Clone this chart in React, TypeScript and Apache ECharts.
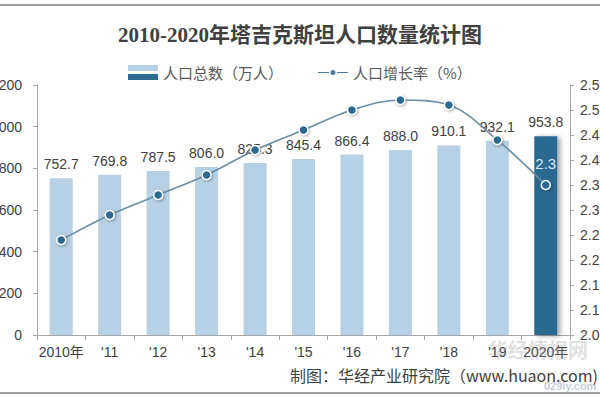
import React, { useEffect, useRef } from "react";
import * as echarts from "echarts";

const categories = ["2010年", "'11", "'12", "'13", "'14", "'15", "'16", "'17", "'18", "'19", "2020年"];
const population = [752.7, 769.8, 787.5, 806.0, 825.3, 845.4, 866.4, 888.0, 910.1, 932.1, 953.8];
const growthRate = [2.19, 2.24, 2.28, 2.32, 2.37, 2.41, 2.45, 2.47, 2.46, 2.39, 2.30];

const LIGHT = "#b6d0e5";
const DARK = "#2c6a91";
const LINE = "#6b8ea6";
const AXIS = "#a6a6a6";
const TEXT = "#404040";
const CJK = "'Noto Sans CJK SC', 'Liberation Sans', sans-serif";
const LATIN = "'Liberation Sans', Arial, 'Noto Sans CJK SC', sans-serif";

const LINE_ICON =
  "path://M0,7 L11,7 L11,8 L0,8 Z M19,7 L30,7 L30,8 L19,8 Z M15,5 A2.5,2.5 0 1 1 15,10 A2.5,2.5 0 1 1 15,5 Z M0,0 L0.01,0 L0.01,0.01 Z M30,15 L29.99,15 L29.99,14.99 Z";

export default function App() {
  const ref = useRef<HTMLDivElement>(null);
  useEffect(() => {
    if (!ref.current) return;
    const chart = echarts.init(ref.current, null, { renderer: "svg" });
    const last = population.length - 1;
    const option: any = {
      animation: false,
      backgroundColor: "#ffffff",
      title: {
        text: "2010-2020年塔吉克斯坦人口数量统计图",
        left: "center",
        top: 19,
        textStyle: {
          fontSize: 21,
          fontWeight: "bold",
          color: TEXT,
          fontFamily: "'Liberation Serif', 'Noto Sans CJK SC', serif",
        },
      },
      legend: {
        left: 123,
        top: 60,
        itemWidth: 30,
        itemHeight: 15,
        itemGap: 35,
        textStyle: { fontSize: 15, color: "#595959", fontFamily: CJK },
        data: [
          {
            name: "人口总数（万人）",
            icon: "rect",
            itemStyle: {
              color: new echarts.graphic.LinearGradient(0, 0, 0, 1, [
                { offset: 0, color: LIGHT },
                { offset: 0.42, color: LIGHT },
                { offset: 0.42, color: "#ffffff" },
                { offset: 0.58, color: "#ffffff" },
                { offset: 0.58, color: DARK },
                { offset: 1, color: DARK },
              ]),
            },
          },
          {
            name: "人口增长率（%）",
            icon: LINE_ICON,
            itemStyle: { color: "#4d7a98", borderWidth: 0, shadowBlur: 0 },
          },
        ],
      },
      grid: {
        left: 37,
        right: 30,
        top: 85,
        bottom: 66,
        containLabel: false,
        outerBoundsMode: "none",
      },
      xAxis: {
        type: "category",
        data: categories,
        axisLine: { lineStyle: { color: AXIS, width: 1 } },
        axisTick: { show: true, length: 5, lineStyle: { color: AXIS } },
        axisLabel: { interval: 0, fontSize: 14, color: TEXT, margin: 10, fontFamily: LATIN },
      },
      yAxis: [
        {
          type: "value",
          min: 0,
          max: 1200,
          interval: 200,
          splitLine: { show: false },
          axisLine: { show: true, lineStyle: { color: AXIS } },
          axisTick: { show: true, length: 4, lineStyle: { color: AXIS } },
          axisLabel: {
            fontSize: 14,
            color: TEXT,
            margin: 15,
            fontFamily: LATIN,
            formatter: (v: number) => String(Math.round(v)),
          },
        },
        {
          type: "value",
          min: 2.0,
          max: 2.5,
          interval: 0.05,
          position: "right",
          splitLine: { show: false },
          axisLine: { show: true, lineStyle: { color: AXIS } },
          axisTick: { show: true, length: 4, lineStyle: { color: AXIS } },
          axisLabel: {
            fontSize: 14,
            color: TEXT,
            margin: 10,
            fontFamily: LATIN,
            formatter: (v: number) => (Math.round(v * 10 + 1e-6) / 10).toFixed(1),
          },
        },
      ],
      series: [
        {
          name: "人口总数（万人）",
          type: "bar",
          barWidth: 23,
          itemStyle: { color: LIGHT },
          label: {
            show: true,
            position: "top",
            distance: 7,
            fontSize: 14,
            color: TEXT,
            fontFamily: LATIN,
            formatter: (p: any) => Number(p.value).toFixed(1),
          },
          data: population.map((v, i) =>
            i === last
              ? {
                  value: v,
                  itemStyle: {
                    color: DARK,
                    shadowBlur: 5,
                    shadowOffsetX: 3,
                    shadowOffsetY: 1,
                    shadowColor: "rgba(0,0,0,0.35)",
                  },
                }
              : v
          ),
          z: 2,
        },
        {
          name: "人口增长率（%）",
          type: "line",
          yAxisIndex: 1,
          smooth: 0.35,
          symbol: "circle",
          symbolSize: 9,
          lineStyle: { color: LINE, width: 1.6 },
          itemStyle: {
            color: DARK,
            borderColor: "#ffffff",
            borderWidth: 1.5,
            shadowBlur: 3,
            shadowOffsetX: 1,
            shadowOffsetY: 1,
            shadowColor: "rgba(0,0,0,0.35)",
          },
          label: {
            show: false,
            position: "top",
            distance: 9,
            fontSize: 15,
            color: "#d8e9f5",
            fontFamily: LATIN,
            formatter: (p: any) => Number(p.value).toFixed(1),
          },
          data: growthRate.map((v, i) => (i === last ? { value: v, label: { show: true } } : v)),
          z: 5,
        },
      ],
      graphic: [
        { type: "line", shape: { x1: 0, y1: 5, x2: 600, y2: 5 }, style: { stroke: "#a0a0a0", lineWidth: 2 } },
        { type: "line", shape: { x1: 0, y1: 393, x2: 600, y2: 393 }, style: { stroke: "#a0a0a0", lineWidth: 2 } },
        {
          type: "text",
          right: 2,
          top: 367,
          style: {
            text: "制图：华经产业研究院（www.huaon.com)",
            fontSize: 16,
            fill: "#404040",
            fontFamily: CJK,
          },
        },
        {
          type: "text",
          left: 488,
          top: 339,
          z: 10,
          style: {
            text: "华经情报网",
            fontSize: 20,
            fontWeight: "bold",
            fill: "rgba(150,150,150,0.3)",
            fontFamily: CJK,
          },
        },
        {
          type: "text",
          left: 544,
          top: 380,
          z: 10,
          style: {
            text: "029ly.com",
            fontSize: 11,
            fontWeight: "bold",
            fill: "rgba(150,160,175,0.55)",
            fontFamily: LATIN,
          },
        },
      ],
    };
    chart.setOption(option);
    return () => chart.dispose();
  }, []);
  return (
    <div
      ref={ref}
      style={{ position: "fixed", left: 0, top: 0, width: 600, height: 401, background: "#fff" }}
    />
  );
}
